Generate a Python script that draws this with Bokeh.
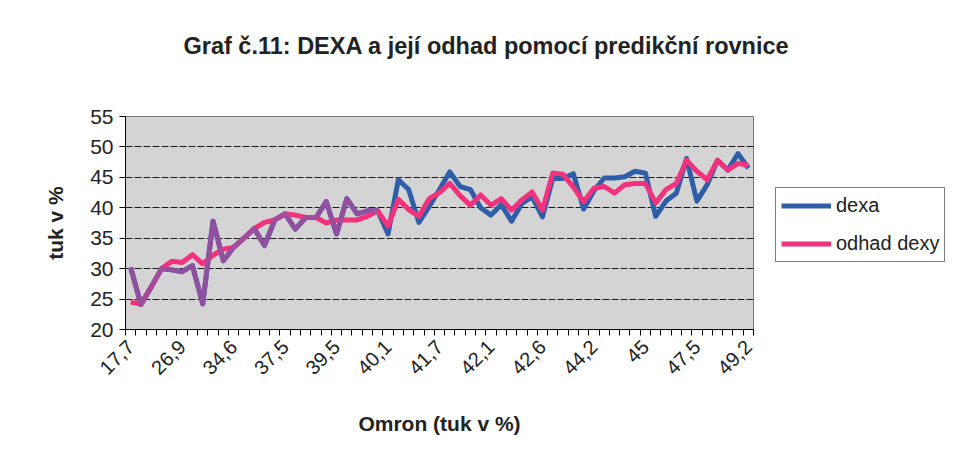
from bokeh.plotting import figure
from bokeh.models import FixedTicker, Legend, LegendItem, Title
from bokeh.embed import file_html
from bokeh.resources import INLINE

# ---- data -------------------------------------------------------------
tick_labels = ["17,7", "26,9", "34,6", "37,5", "39,5", "40,1", "41,7",
               "42,1", "42,6", "44,2", "45", "47,5", "49,2"]
label_step = 5
y_ticks = [20, 25, 30, 35, 40, 45, 50, 55]

dexa = [30.2, 24.1, 27.0, 30.0, 29.8, 29.5, 30.5, 24.2, 37.8, 31.3,
        33.5, 35.0, 36.6, 33.8, 38.0, 39.0, 36.5, 38.4, 38.4, 41.0,
        35.7, 41.5, 39.0, 39.5, 39.5, 35.7, 44.6, 43.0, 37.6, 40.2,
        43.0, 45.9, 43.5, 43.0, 40.0, 38.8, 40.5, 37.8, 40.7, 41.8,
        38.5, 44.8, 44.8, 45.6, 39.8, 42.8, 44.9, 44.9, 45.1, 46.0,
        45.7, 38.6, 41.1, 42.4, 48.1, 41.1, 43.8, 47.8, 46.2, 48.9,
        46.5]
odhad = [24.5, 24.2, 27.0, 30.0, 31.2, 31.0, 32.3, 30.8, 32.2, 33.2,
         33.5, 35.0, 36.6, 37.6, 38.0, 39.0, 38.8, 38.4, 38.4, 37.5,
         38.0, 38.0, 38.0, 38.6, 39.5, 37.0, 41.4, 39.7, 38.6, 41.5,
         42.5, 44.0, 42.0, 40.4, 42.1, 40.4, 41.5, 39.6, 41.3, 42.6,
         39.6, 45.7, 45.5, 43.4, 41.0, 43.2, 43.5, 42.4, 43.8, 44.0,
         44.0, 40.8, 43.0, 44.0, 47.8, 46.0, 44.6, 47.8, 46.2, 47.3,
         47.0]
x = list(range(len(dexa)))
n_overlap = 25  # leading part where both lines print as one purple line

# ---- figure -----------------------------------------------------------
FONT = "Liberation Sans"
TXT = "#222222"
p = figure(frame_width=628, frame_height=213, output_backend="svg",
           toolbar_location=None, title=None,
           x_range=(-0.5, len(x) - 0.5), y_range=(20, 55),
           min_border_left=125, min_border_right=192,
           min_border_top=116, min_border_bottom=126)

p.background_fill_color = "#d4d4d4"
p.border_fill_color = "white"
p.outline_line_color = "#777777"
p.outline_line_width = 1

# spacer nearest to the frame, main title above it
spacer = Title(text=" ", standoff=40, text_font_size="10px")
main_title = Title(text="Graf č.11: DEXA a její odhad pomocí predikční rovnice",
                   align="left", offset=58, standoff=10,
                   text_font=FONT, text_font_size="23.5px",
                   text_font_style="bold", text_color=TXT)
p.add_layout(spacer, "above")
p.add_layout(main_title, "above")

# grid
p.xgrid.visible = False
p.ygrid.grid_line_color = "#1a1a1a"
p.ygrid.grid_line_width = 1
p.ygrid.grid_line_dash = "7 2"

# y axis
p.yaxis.ticker = FixedTicker(ticks=y_ticks)
p.yaxis.axis_label = "tuk v %"
p.yaxis.axis_label_text_font = FONT
p.yaxis.axis_label_text_font_size = "21px"
p.yaxis.axis_label_text_font_style = "bold"
p.yaxis.axis_label_text_color = TXT
p.yaxis.axis_label_standoff = 20
p.yaxis.major_label_text_font = FONT
p.yaxis.major_label_text_font_size = "21px"
p.yaxis.major_label_text_color = TXT
p.yaxis.major_label_standoff = 6
p.yaxis.major_tick_in = 0
p.yaxis.major_tick_out = 6
p.yaxis.minor_tick_line_color = None
p.yaxis.axis_line_color = "black"
p.yaxis.major_tick_line_color = "black"

# x axis
label_pos = list(range(0, len(x), label_step))
p.xaxis.ticker = FixedTicker(ticks=label_pos,
                             minor_ticks=[i - 0.5 for i in range(len(x) + 1)])
p.xaxis.major_label_overrides = {pos: lab for pos, lab in zip(label_pos, tick_labels)}
p.xaxis.major_label_orientation = 0.785398
p.xaxis.major_label_text_font = FONT
p.xaxis.major_label_text_font_size = "20px"
p.xaxis.major_label_text_color = TXT
p.xaxis.major_tick_line_color = None
p.xaxis.major_label_standoff = 8
p.xaxis.minor_tick_line_color = "black"
p.xaxis.minor_tick_in = 0
p.xaxis.minor_tick_out = 6
p.xaxis.axis_line_color = "black"
p.xaxis.axis_label = "Omron (tuk v %)"
p.xaxis.axis_label_text_font = FONT
p.xaxis.axis_label_text_font_size = "21px"
p.xaxis.axis_label_text_font_style = "bold"
p.xaxis.axis_label_text_color = TXT
p.xaxis.axis_label_standoff = 28

# lines
BLUE = "#2f5ea8"
PINK = "#f2327c"
PURPLE = "#9a4f9e"
r_dexa = p.line(x, dexa, line_color=BLUE, line_width=5, line_join="round")
r_odhad = p.line(x, odhad, line_color=PINK, line_width=5, line_join="round")
p.line(x[:n_overlap], dexa[:n_overlap], line_color=PURPLE, line_width=5,
       line_join="round", line_alpha=0.9)

legend = Legend(items=[LegendItem(label="dexa", renderers=[r_dexa]),
                       LegendItem(label="odhad dexy", renderers=[r_odhad])],
                location=(22, 67), margin=0, padding=5, spacing=13,
                glyph_width=50, glyph_height=25, label_height=25,
                label_standoff=5,
                label_text_font=FONT, label_text_font_size="20px",
                label_text_color=TXT,
                border_line_color="black", border_line_width=1,
                background_fill_color="white", background_fill_alpha=1)
p.add_layout(legend, "right")

open("out.html", "w").write(file_html(p, INLINE))
